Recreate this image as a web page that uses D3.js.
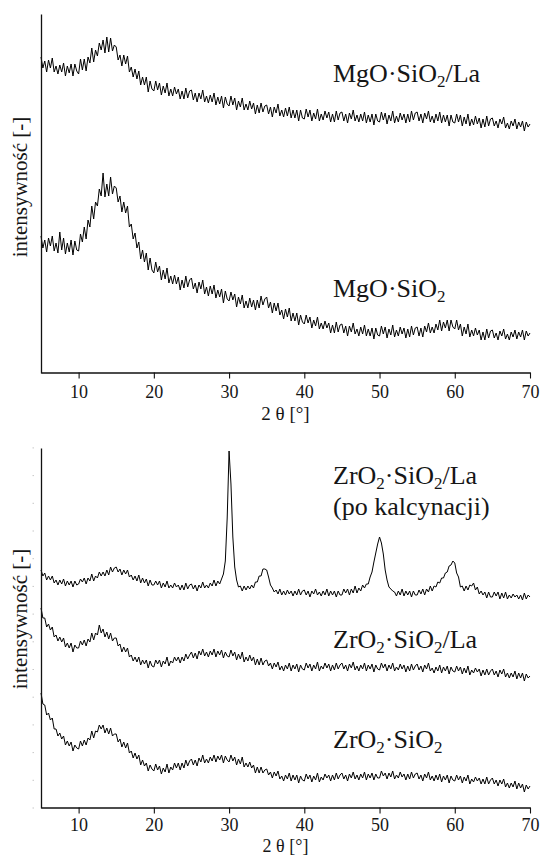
<!DOCTYPE html>
<html>
<head>
<meta charset="utf-8">
<script src="https://cdn.jsdelivr.net/npm/d3@7"></script>
<style>
  body { margin: 0; background: #fff; }
  svg { display: block; }
  text { font-family: "Liberation Serif", "Times New Roman", serif; fill: #161616; }
</style>
</head>
<body>
<svg id="chart" width="542" height="856"></svg>
<script>
// skan 2θ: krok 0.25°, 5–70°
const step = 0.25;
const angles = d3.range(5, 70 + step / 2, step);
const xTicks = [10, 20, 30, 40, 50, 60, 70];

// Intensywności (j.u.), po 20 punktów (5°) w wierszu
const mgoSiO2La = [
  316,305,312,301,313,305,315,301,307,299,308,301,310,297,307,300,309,297,309,302,
  299,314,303,314,302,316,310,325,311,323,317,330,323,333,320,336,321,335,322,328,
  326,313,318,307,318,309,317,301,306,296,304,294,302,288,296,288,296,281,292,284,
  282,292,283,290,278,287,280,290,277,284,277,286,279,284,274,282,274,285,275,282,
  283,273,280,271,280,274,283,271,277,270,278,271,280,268,276,269,277,265,276,269,
  267,277,268,275,263,272,266,275,263,269,263,272,264,270,259,268,260,270,261,267,
  268,259,266,256,266,260,269,257,263,256,265,257,266,255,263,255,263,252,263,255,
  254,264,256,263,252,260,254,264,252,259,253,262,255,261,251,259,251,262,253,260,
  261,252,259,250,260,254,263,252,258,251,259,252,261,250,258,251,259,248,259,252,
  251,261,253,260,249,258,252,262,250,257,251,260,253,259,250,259,251,262,253,260,
  261,252,259,250,260,254,262,251,257,250,259,252,261,250,258,251,258,247,258,251,
  250,259,251,258,247,256,249,259,247,254,248,257,249,255,245,254,246,257,247,254,
  255,247,252,245,254,249,256,245,250,244,252,247,254,244,251,246,252,242,251,246,
  249
];
const mgoSiO2 = [
  137,125,133,121,135,127,137,122,130,120,141,123,135,119,130,121,133,118,132,123,
  122,139,131,146,134,153,146,167,154,171,167,184,177,200,176,189,177,196,179,187,
  185,171,177,161,171,160,167,146,149,134,140,125,131,114,123,111,120,103,115,103,
  100,111,101,107,93,103,94,105,90,97,89,98,89,96,83,93,85,97,86,93,
  95,84,90,80,91,84,93,79,86,77,87,79,88,75,83,76,84,70,82,74,
  72,81,73,79,66,76,69,78,65,72,65,75,66,73,63,73,65,77,68,74,
  76,65,71,60,70,62,70,58,63,54,64,56,65,52,60,52,60,48,58,51,
  49,58,50,56,45,53,47,56,44,50,44,52,45,50,40,48,40,51,41,48,
  49,40,47,37,47,41,50,39,44,37,46,39,48,37,44,37,45,34,45,38,
  37,47,39,46,35,44,38,48,36,43,37,46,39,45,35,44,36,47,38,45,
  46,37,45,36,47,41,50,40,46,40,49,43,53,42,51,45,53,42,53,46,
  44,53,43,49,37,46,39,49,36,43,37,45,38,43,33,41,33,44,35,42,
  43,35,40,33,42,37,44,34,39,33,41,36,43,34,41,36,43,33,42,37,
  40
];
const zrSiO2LaKalc = [
  238,232,235,228,232,228,232,225,228,223,228,224,229,222,227,223,227,221,227,223,
  224,229,226,230,224,230,227,234,227,232,230,236,232,236,232,238,233,241,236,240,
  241,236,239,233,238,234,238,231,233,228,232,227,233,225,230,225,229,222,228,223,
  223,227,223,227,220,225,221,227,220,223,220,225,221,223,218,223,218,225,219,223,
  224,219,223,217,223,220,226,220,223,220,225,222,228,222,227,224,229,234,247,290,
  357,324,271,241,228,221,222,217,222,218,222,219,223,220,226,226,232,232,239,239,
  238,231,223,220,216,218,214,219,213,217,213,218,214,217,212,217,213,219,213,217,
  218,213,217,211,217,214,219,213,216,212,217,213,219,212,217,213,217,211,217,213,
  213,219,215,219,213,219,215,222,215,220,217,223,220,224,224,231,236,246,255,264,
  271,265,254,238,228,221,219,217,216,212,217,213,219,212,217,213,217,211,217,213,
  213,218,214,219,213,219,216,222,217,222,221,226,225,230,230,235,236,242,243,247,
  245,235,231,221,222,217,222,218,223,222,225,218,221,214,217,213,216,210,216,211,
  211,216,212,216,209,215,210,216,209,213,210,214,211,213,209,213,208,215,209,213,
  211
];
const zrSiO2La = [
  200,190,190,181,184,178,181,171,173,167,171,166,170,161,165,160,165,156,163,160,
  160,167,163,168,162,169,166,175,168,175,173,183,175,179,171,176,169,175,167,170,
  170,162,164,156,161,156,160,151,153,147,151,146,151,143,148,144,148,140,147,142,
  141,148,144,148,141,147,144,151,142,147,145,151,147,151,145,151,147,154,149,153,
  156,150,155,149,157,153,159,152,156,151,157,153,159,151,157,153,158,150,156,152,
  151,158,152,156,148,154,149,156,146,151,147,153,147,151,143,149,143,150,143,147,
  148,142,145,139,145,141,146,138,142,137,143,139,145,137,143,139,144,136,143,139,
  138,145,140,144,137,143,139,146,137,142,139,145,140,144,137,143,138,145,139,143,
  145,139,143,137,144,140,146,138,142,137,143,139,145,137,143,139,144,136,143,139,
  138,145,140,144,137,143,139,145,137,141,138,144,139,143,136,142,137,144,138,142,
  144,138,142,136,143,139,145,137,140,135,141,137,143,135,141,137,142,134,141,137,
  136,142,137,141,134,140,135,142,133,138,135,140,136,139,132,138,133,139,133,137,
  139,133,137,131,138,134,139,131,135,130,135,131,137,129,135,130,135,127,134,130,
  132
];
const zrSiO2 = [
  115,104,103,93,95,88,90,79,79,72,75,69,72,63,67,62,66,57,63,60,
  59,67,62,68,63,70,68,77,70,77,76,83,79,83,75,80,74,80,72,74,
  74,66,69,61,66,60,65,55,57,50,55,49,53,43,48,42,45,37,43,39,
  37,44,38,42,34,40,36,44,35,41,38,45,40,45,38,45,40,48,42,47,
  49,43,48,42,50,46,53,45,49,45,51,47,53,46,52,48,53,45,52,48,
  46,53,47,51,43,49,44,51,41,45,41,46,40,43,35,41,35,41,35,38,
  39,33,36,30,36,32,37,29,32,27,33,29,35,27,33,28,33,25,32,28,
  27,34,29,33,26,32,28,35,26,31,28,34,30,33,27,33,28,35,29,33,
  35,29,33,27,34,30,36,29,33,28,34,30,36,28,34,30,35,28,34,30,
  30,37,32,35,29,35,31,37,29,33,30,36,31,34,28,34,29,36,30,34,
  35,29,33,27,34,30,36,28,32,27,33,28,34,26,32,28,33,25,32,28,
  27,33,28,32,25,31,27,33,24,29,26,31,27,30,24,29,24,31,24,28,
  30,24,28,22,28,24,29,21,25,20,25,21,27,19,25,20,24,16,23,19,
  22
];

// Opisy krzywych (części z indeksem dolnym oznaczone "sub")
const labelMgOLa = [["MgO·SiO"], ["2", "sub"], ["/La"]];
const labelMgO = [["MgO·SiO"], ["2", "sub"]];
const labelZrLa = [["ZrO"], ["2", "sub"], ["·SiO"], ["2", "sub"], ["/La"]];
const labelZrKalc = [["(po kalcynacji)"]];
const labelZr = [["ZrO"], ["2", "sub"], ["·SiO"], ["2", "sub"]];

const yMinorTicks = d3.range(0, 361, 27.7);

const left = 41, right = 530;

const panels = [
  {
    top: 14, bottom: 373, labelMid: 187, minor: false,
    tickPad: 7, titleGap: 47, titleSize: 19,
    series: [mgoSiO2La, mgoSiO2],
    labels: [{ parts: labelMgOLa, y: 82 }, { parts: labelMgO, y: 297 }]
  },
  {
    top: 448, bottom: 808, labelMid: 619, minor: true,
    tickPad: 5, titleGap: 44, titleSize: 18,
    series: [zrSiO2LaKalc, zrSiO2La, zrSiO2],
    labels: [
      { parts: labelZrLa, y: 484 },
      { parts: labelZrKalc, y: 515 },
      { parts: labelZrLa, y: 648 },
      { parts: labelZr, y: 748 }
    ]
  }
];

const svg = d3.select('#chart');

const x = d3.scaleLinear().domain([5, 70]).range([left, right]);

panels.forEach(p => {
  const y = d3.scaleLinear().domain([0, p.bottom - p.top]).range([p.bottom, p.top]);
  const g = svg.append('g');

  // Krzywe
  const line = d3.line()
    .x((d, i) => x(angles[i]))
    .y(d => y(d));

  p.series.forEach(values => {
    g.append('path')
      .datum(values)
      .attr('fill', 'none')
      .attr('stroke', '#000')
      .attr('stroke-width', 1)
      .attr('stroke-linejoin', 'round')
      .attr('d', line);
  });

  // Oś X
  const xAxis = d3.axisBottom(x)
    .tickValues(xTicks)
    .tickSize(6)
    .tickSizeOuter(0)
    .tickPadding(p.tickPad);

  const gx = g.append('g')
    .attr('transform', `translate(0,${p.bottom - 0.5})`)
    .call(xAxis);
  gx.select('.domain').attr('stroke', '#111').attr('stroke-width', 1.3);
  gx.selectAll('.tick line').attr('stroke', '#111').attr('stroke-width', 1.1);
  gx.selectAll('.tick text')
    .style('font-family', '"Liberation Serif", serif')
    .style('font-size', '18px')
    .attr('fill', '#161616');

  // Oś Y (bez podziałki)
  const gy = g.append('g')
    .attr('transform', `translate(${left},0)`)
    .call(d3.axisLeft(y).tickValues([]).tickSizeOuter(0));
  gy.select('.domain').attr('stroke', '#111').attr('stroke-width', 1.3);

  if (p.minor) {
    g.selectAll('rect.minor')
      .data(yMinorTicks)
      .join('rect')
      .attr('class', 'minor')
      .attr('x', left - 8.5)
      .attr('y', d => y(d) - 0.5)
      .attr('width', 1.5)
      .attr('height', 1)
      .attr('fill', '#c8c8c8');
  }

  // Tytuły osi
  g.append('text')
    .attr('x', (left + right) / 2)
    .attr('y', p.bottom + p.titleGap)
    .attr('text-anchor', 'middle')
    .style('font-size', p.titleSize + 'px')
    .text('2 θ [°]');

  g.append('text')
    .attr('transform', `translate(27,${p.labelMid}) rotate(-90)`)
    .attr('text-anchor', 'middle')
    .style('font-size', '21px')
    .text('intensywność [-]');

  // Opisy próbek
  p.labels.forEach(lb => {
    const t = g.append('text')
      .attr('x', 333)
      .attr('y', lb.y)
      .style('font-size', '26px');
    let shifted = false;
    lb.parts.forEach(([txt, kind]) => {
      const ts = t.append('tspan').text(txt);
      if (kind === 'sub') {
        ts.attr('dy', 5).style('font-size', '17px');
        shifted = true;
      } else if (shifted) {
        ts.attr('dy', -5);
        shifted = false;
      }
    });
  });
});
</script>
</body>
</html>
